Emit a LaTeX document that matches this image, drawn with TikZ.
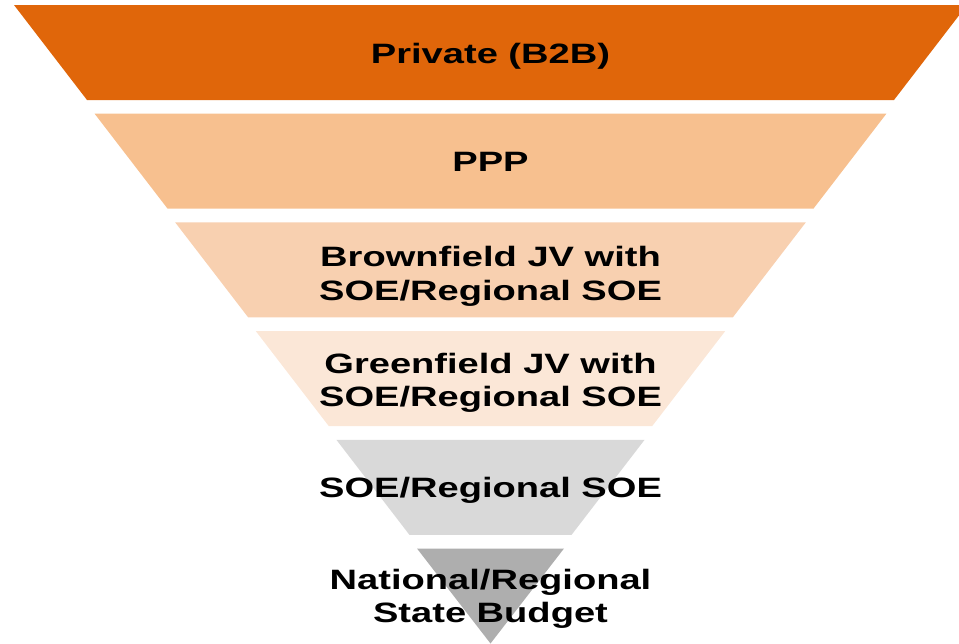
\documentclass[tikz,border=0pt]{standalone}
\usepackage{fontspec}
\newfontfamily\lblfont{Liberation Sans}[FakeStretch=1.36]
\definecolor{bandA}{HTML}{E0660A}
\definecolor{bandB}{HTML}{F7C08F}
\definecolor{bandC}{HTML}{F8D0B0}
\definecolor{bandD}{HTML}{FBE7D7}
\definecolor{bandE}{HTML}{D9D9D9}
\definecolor{bandF}{HTML}{AEAEAE}
\tikzset{
  lbl/.style={anchor=base, inner sep=0pt, text=black, font=\lblfont\bfseries\fontsize{28}{30}\selectfont}
}
\begin{document}
\begin{tikzpicture}[x=1pt,y=-1pt]
\useasboundingbox (0,0) rectangle (959,643);
\clip (0,0) rectangle (959,643);
% bands
\fill[bandA] (14,5) -- (967,5) -- (894,100) -- (87,100) -- cycle;
\fill[bandB] (94.6,113.7) -- (886.4,113.7) -- (813.4,208.7) -- (167.6,208.7) -- cycle;
\fill[bandC] (175.2,222.4) -- (805.8,222.4) -- (732.8,317.4) -- (248.2,317.4) -- cycle;
\fill[bandD] (255.8,331.1) -- (725.2,331.1) -- (652.2,426.1) -- (328.8,426.1) -- cycle;
\fill[bandE] (336.4,439.8) -- (644.6,439.8) -- (571.6,534.8) -- (409.4,534.8) -- cycle;
\fill[bandF] (417,548.5) -- (564,548.5) -- (490.5,643.5) -- cycle;
% labels
\node[lbl] (t1)  at (490.5,63.5)  {Private (B2B)};
\node[lbl] (t2)  at (490.5,171)   {PPP};
\node[lbl] (t3a) at (490.5,266.5) {Brownfield JV with};
\node[lbl] (t3b) at (490.5,300)   {SOE/Regional SOE};
\node[lbl] (t4a) at (490.5,373)   {Greenfield JV with};
\node[lbl] (t4b) at (490.5,406.5) {SOE/Regional SOE};
\node[lbl] (t5)  at (490.5,497)   {SOE/Regional SOE};
\node[lbl] (t6a) at (490.5,589)   {National/Regional};
\node[lbl] (t6b) at (490.5,622)   {State Budget};
\end{tikzpicture}
\end{document}
